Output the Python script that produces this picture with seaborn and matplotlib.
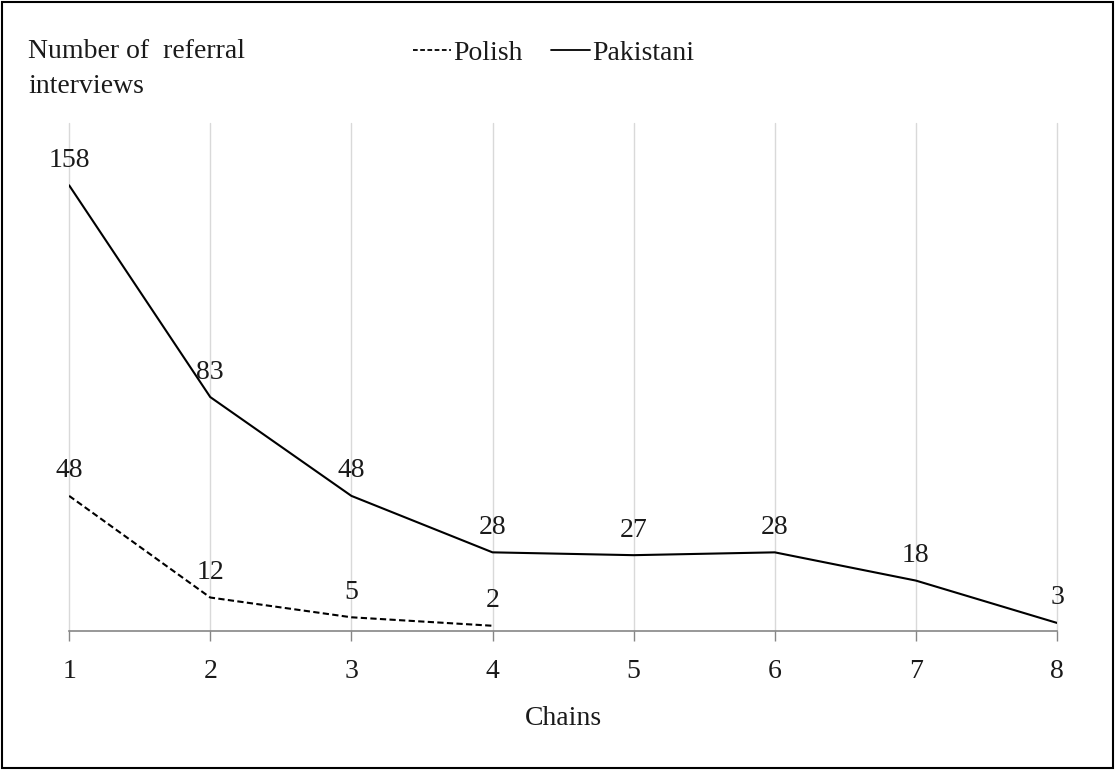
import pandas as pd
import matplotlib
matplotlib.use("Agg")
import matplotlib.pyplot as plt
import seaborn as sns
from matplotlib.patches import Rectangle
from matplotlib.lines import Line2D

# chart values
chains = [1, 2, 3, 4, 5, 6, 7, 8]
polish = [48, 12, 5, 2]
pakistani = [158, 83, 48, 28, 27, 28, 18, 3]

df = pd.concat([
    pd.DataFrame({"Chains": chains[:len(polish)], "Interviews": polish, "Group": "Polish"}),
    pd.DataFrame({"Chains": chains, "Interviews": pakistani, "Group": "Pakistani"}),
])

sns.set_theme(style="white")
plt.rcParams["font.family"] = ["Liberation Serif", "DejaVu Serif"]
FS = 20
TXT = "#1a1a1a"

fig = plt.figure(figsize=(11.15, 7.7), dpi=100)
ax = fig.add_axes([0.062, 0.18, 0.886, 0.66])

sns.lineplot(data=df, x="Chains", y="Interviews", hue="Group", style="Group",
             palette={"Polish": "black", "Pakistani": "black"},
             dashes={"Polish": (3, 1.6), "Pakistani": ""},
             linewidth=1.5, legend=False, ax=ax)

# data labels
for g, vals in [("Polish", polish), ("Pakistani", pakistani)]:
    for x, v in zip(chains, vals):
        ax.annotate(str(v), (x, v), xytext=(0, 18), textcoords="offset points",
                    ha="center", va="center", fontsize=FS, color=TXT)

ax.set_xlim(1, 8)
ax.set_ylim(0, 180)
ax.set_xticks(chains)
ax.set_yticks([])
ax.grid(axis="x", color="#d9d9d9", linewidth=1)
for gl in ax.get_xgridlines():
    gl.set_clip_on(False)
for s in ["top", "right", "left"]:
    ax.spines[s].set_visible(False)
ax.spines["bottom"].set_color("#868686")
ax.spines["bottom"].set_linewidth(1.2)
ax.tick_params(axis="x", direction="out", length=7, width=1, color="#868686",
               labelsize=FS, labelcolor=TXT, pad=13, bottom=True)
ax.set_xlabel("Chains", fontsize=FS, color=TXT, labelpad=16)
ax.set_ylabel("")

fig.text(0.025, 0.95, "Number of  referral\ninterviews", ha="left", va="top",
         fontsize=FS, color=TXT, linespacing=1.55)

handles = [Line2D([], [], color="black", linestyle=(0, (2.6, 1.4)), linewidth=1.3),
           Line2D([], [], color="black", linewidth=1.3)]
fig.legend(handles, ["Polish", "Pakistani"], loc="center left",
           bbox_to_anchor=(0.37, 0.931), ncol=2, frameon=False, fontsize=FS,
           handlelength=1.4, handletextpad=0.08, columnspacing=1.0,
           labelcolor=TXT, borderpad=0, borderaxespad=0)

# outer frame
fig.patches.append(Rectangle((0.002, 0.002), 0.996, 0.996, transform=fig.transFigure,
                             fill=False, edgecolor="black", linewidth=1.5))

fig.savefig("out.png", dpi=100)
